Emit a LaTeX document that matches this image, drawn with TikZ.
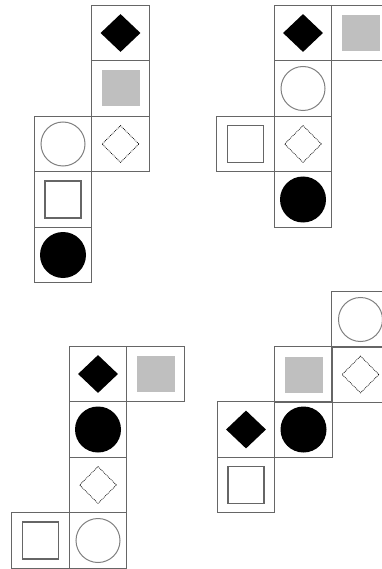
\documentclass[tikz,border=0pt]{standalone}
\usetikzlibrary{shapes.geometric}
\begin{document}
\begin{tikzpicture}[x=1pt,y=-1pt,
  cellbox/.style={draw=black!60,line width=1.3pt,minimum width=57.5pt,minimum height=55.5pt,inner sep=0pt,outer sep=0pt},
  bdiam/.style={diamond,fill=black,minimum width=40pt,minimum height=38pt,inner sep=0pt},
  gsq/.style={rectangle,fill=black!25,minimum width=38pt,minimum height=36pt,inner sep=0pt},
  ocirc/.style={circle,draw=black!50,line width=1pt,minimum size=44pt,inner sep=0pt},
  bcirc/.style={circle,fill=black,minimum size=46pt,inner sep=0pt},
  osq/.style={rectangle,draw=black!60,line width=1.1pt,minimum width=36pt,minimum height=37pt,inner sep=0pt},
  ddiam/.style={diamond,draw=black,densely dotted,line width=0.8pt,minimum width=37pt,minimum height=37pt,inner sep=0pt}]
\useasboundingbox (0,0) rectangle (382,569);
% ---- Figure 1 (top left)
\node[cellbox] (a1) at (120.5,33) {};
\node[cellbox] (a2) at (120.5,88.5) {};
\node[cellbox] (a3) at (120.5,144) {};
\node[cellbox] (a4) at (63,144) {};
\node[cellbox] (a5) at (63,199.5) {};
\node[cellbox] (a6) at (63,255) {};
\node[bdiam] (a1s) at (a1.center) {};
\node[gsq] (a2s) at (a2.center) {};
\node[ddiam] (a3s) at (a3.center) {};
\node[ocirc] (a4s) at (a4.center) {};
\node[osq] (a5s) at (a5.center) {};
\node[bcirc] (a6s) at (a6.center) {};
% ---- Figure 2 (top right)
\node[cellbox] (b1) at (303,33) {};
\node[cellbox] (b2) at (360.5,33) {};
\node[cellbox] (b3) at (303,88.5) {};
\node[cellbox] (b4) at (303,144) {};
\node[cellbox] (b5) at (245.5,144) {};
\node[cellbox] (b6) at (303,199.5) {};
\node[bdiam] (b1s) at (b1.center) {};
\node[gsq] (b2s) at (b2.center) {};
\node[ocirc] (b3s) at (b3.center) {};
\node[ddiam] (b4s) at (b4.center) {};
\node[osq] (b5s) at (b5.center) {};
\node[bcirc] (b6s) at (b6.center) {};
% ---- Figure 3 (bottom left)
\node[cellbox] (c1) at (98,374) {};
\node[cellbox] (c2) at (155.5,374) {};
\node[cellbox] (c3) at (98,429.5) {};
\node[cellbox] (c4) at (98,485) {};
\node[cellbox] (c5) at (98,540.5) {};
\node[cellbox] (c6) at (40.5,540.5) {};
\node[bdiam] (c1s) at (c1.center) {};
\node[gsq] (c2s) at (c2.center) {};
\node[bcirc] (c3s) at (c3.center) {};
\node[ddiam] (c4s) at (c4.center) {};
\node[ocirc] (c5s) at (c5.center) {};
\node[osq] (c6s) at (c6.center) {};
% ---- Figure 4 (bottom right)
\node[cellbox] (d1) at (360.5,319.5) {};
\node[cellbox] (d2) at (360.5,374.5) {};
\node[cellbox] (d3) at (303.5,374.5) {};
\node[cellbox] (d4) at (303.5,429.5) {};
\node[cellbox] (d5) at (246,429.5) {};
\node[cellbox] (d6) at (246,485) {};
\node[ocirc] (d1s) at (d1.center) {};
\node[ddiam] (d2s) at (d2.center) {};
\node[gsq] (d3s) at (d3.center) {};
\node[bcirc] (d4s) at (d4.center) {};
\node[bdiam] (d5s) at (d5.center) {};
\node[osq] (d6s) at (d6.center) {};
\end{tikzpicture}
\end{document}
